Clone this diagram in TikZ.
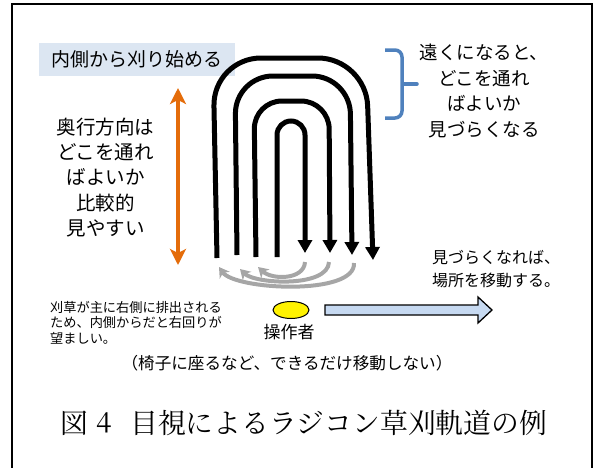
\documentclass[tikz,border=0pt]{standalone}
\usepackage{fontspec}
\newfontfamily\jp{Noto Sans CJK JP}
\newfontfamily\capfont{Noto Serif CJK JP}
\usetikzlibrary{arrows.meta,shapes.geometric}
\definecolor{orangeA}{HTML}{E46C0A}
\definecolor{braceblue}{HTML}{4F81BD}
\definecolor{boxblue}{HTML}{DCE6F2}
\definecolor{arrowblue}{HTML}{C6D9F1}
\definecolor{grayA}{HTML}{A6A6A6}
\tikzset{
  track/.style={line width=5pt, black, -{Triangle[width=14pt,length=13pt]}},
  grayarr/.style={line width=4pt, grayA, -{Stealth[length=10pt,width=12pt,inset=3pt]}},
  orangearr/.style={line width=4.5pt, orangeA, {Stealth[length=16pt,width=16pt,inset=4pt]}-{Stealth[length=16pt,width=16pt,inset=4pt]}},
  jptext/.style={font=\jp, inner sep=0pt, align=center},
  captext/.style={inner sep=0pt, anchor=west, font=\capfont\fontsize{27.8}{30}\selectfont},
}
\begin{document}
\begin{tikzpicture}[x=1pt,y=-1pt]
\useasboundingbox (0,0) rectangle (598,467);
% frame
\draw[line width=2pt] (12,475) -- (12,4) -- (592,4) -- (592,475);
% label box
\node[jptext, fill=boxblue, minimum width=196pt, minimum height=33pt, font=\jp\fontsize{19}{22}\selectfont] (start) at (137,59.5) {内側から刈り始める};
% orange double arrow
\coordinate (otop) at (178,88);
\coordinate (obot) at (178,265);
\draw[orangearr] (obot) -- (otop);
% left text
\node[jptext, font=\jp\fontsize{19.5}{25.3}\selectfont] (depth) at (105.5,177.5) {奥行方向は\\どこを通れ\\ばよいか\\比較的\\見やすい};
% brace
\draw[braceblue, line width=3.5pt, rounded corners=7pt] (385,50) -- (402,50) -- (402,84) -- (402,118) -- (385,118);
\draw[braceblue, line width=3.5pt, line cap=round] (403,84) -- (417,84);
\node[jptext, font=\jp\fontsize{18.5}{25.5}\selectfont] (far) at (484,91) {遠くになると、\\どこを通れ\\ばよいか\\見づらくなる};
% tracks
\draw[track, rounded corners=48pt] (217,258) -- (213,58) -- (366,58) -- (373,260);
\draw[track, rounded corners=38pt] (237,255) -- (235,76) -- (350,76) -- (352,255);
\draw[track, rounded corners=28pt] (256,257) -- (254,101) -- (329,101) -- (330,253);
\draw[track, rounded corners=14pt] (277,257) -- (277,121) -- (305,121) -- (305,253);
% gray return arrows
\draw[grayarr] (305,262) .. controls (304,280) and (272,280) .. (258,267);
\draw[grayarr] (329,262) .. controls (328,288) and (255,284) .. (240,269);
\draw[grayarr] (354,263) .. controls (356,296) and (235,290) .. (219,267);
% operator
\node[draw=black, line width=1pt, fill=yellow, ellipse, minimum width=36pt, minimum height=17pt, inner sep=0pt] (op) at (291,310) {};
\node[jptext, font=\jp\fontsize{17}{20}\selectfont] (oplabel) at (289,332) {操作者};
% big move arrow
\draw[fill=arrowblue, line width=1.3pt, line join=miter] (325,305) -- (478,305) -- (478,297) -- (492,310) -- (478,323) -- (478,315) -- (325,315) -- cycle;
\node[jptext, font=\jp\fontsize{16}{23}\selectfont] (move) at (496,269.5) {見づらくなれば、\\場所を移動する。};
% note
\node[jptext, align=left, anchor=west, font=\jp\fontsize{13.2}{15.5}\selectfont] (note) at (50,322.5) {刈草が主に右側に排出される\\ため、内側からだと右回りが\\望ましい。};
\node[jptext, font=\jp\fontsize{16.6}{20}\selectfont] (seat) at (287,363) {（椅子に座るなど、できるだけ移動しない）};
% caption
\node[captext] (cap1) at (60,423) {図};
\node[captext, anchor=center] (cap2) at (104,423) {4};
\node[captext] (cap3) at (130,423) {目視によるラジコン草刈軌道の例};
\end{tikzpicture}
\end{document}
